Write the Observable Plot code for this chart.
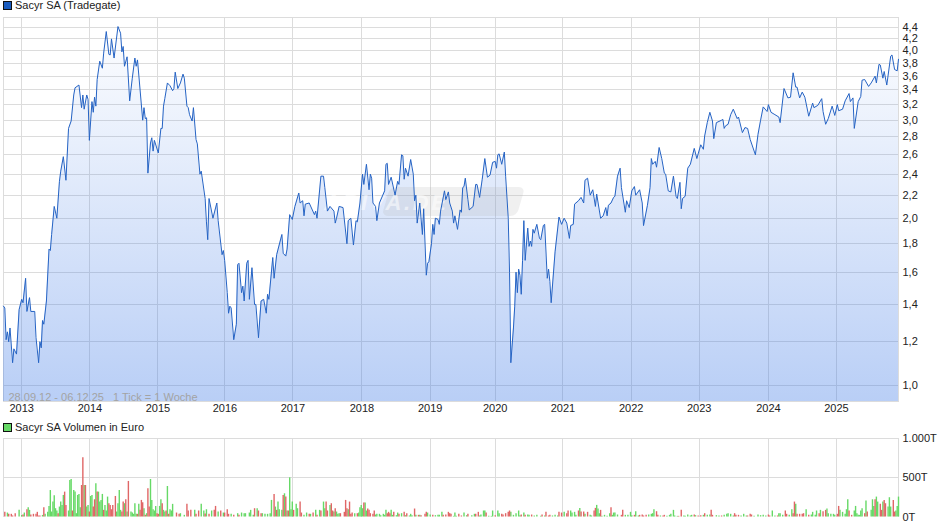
<!DOCTYPE html>
<html><head><meta charset="utf-8">
<script src="https://cdn.jsdelivr.net/npm/d3@7"></script>
<script src="https://cdn.jsdelivr.net/npm/@observablehq/plot@0.6"></script>
<style>
html,body{margin:0;padding:0;background:#fff;overflow:hidden}
body{width:940px;height:526px;position:relative;font-family:"Liberation Sans",Arial,sans-serif}
.legend{position:absolute;left:3px;font-size:11px;line-height:13px;color:#222;z-index:2;white-space:nowrap}
.legend i{display:inline-block;width:7px;height:7px;border:1px solid #111;margin-right:3px;vertical-align:-0.5px}
#a,#b{position:absolute;left:0}
#a{top:16px}#b{top:431px}
</style></head><body>
<div class="legend" style="top:-1px"><i style="background:#1a5cbf"></i>Sacyr SA (Tradegate)</div>
<div class="legend" style="top:421px"><i style="background:#66d966"></i>Sacyr SA Volumen in Euro</div>
<div id="a"></div><div id="b"></div>
<script>
const yearWeeks=[14,66.4,118.7,170.2,222.5,275.5,328,378,430,482.5,534.8,588,640.3];
const yearLabels=["2013","2014","2015","2016","2017","2018","2019","2020","2021","2022","2023","2024","2025"];
const priceTicks=[1,1.2,1.4,1.6,1.8,2,2.2,2.4,2.6,2.8,3,3.2,3.4,3.6,3.8,4,4.2,4.4];
const volumeTicks=[0,500,1000];
// [week since 28.09.12, price]
const price=[[0,1.39],[1,1.38],[2,1.21],[3,1.25],[4,1.2],[5,1.27],[7,1.1],[8,1.165],[10,1.14],[12,1.37],[14,1.43],[15,1.41],[17,1.56],[18,1.36],[20,1.44],[21,1.36],[24,1.36],[25,1.22],[27,1.1],[28,1.2],[29,1.17],[30,1.31],[31,1.29],[33,1.42],[35,1.76],[36,1.75],[37,1.87],[39,2.1],[41,2.0],[43,2.33],[44,2.43],[46,2.58],[48,2.34],[50,2.9],[52,2.99],[54,3.33],[55,3.43],[58,3.47],[60,3.16],[61,3.33],[62,3.14],[64,3.33],[65,3.27],[66,2.76],[68,3.24],[69,3.1],[70,3.3],[71,3.18],[72,3.55],[74,3.83],[76,3.72],[77,3.96],[79,4.33],[81,3.94],[82,3.93],[83,4.2],[85,3.88],[88,4.42],[90,4.3],[91,3.98],[92,4.07],[93,3.75],[95,3.9],[97,3.25],[99,3.57],[101,3.88],[102,3.75],[103,3.85],[107,3.0],[108,3.16],[109,3.02],[110,3.03],[111,2.41],[113,2.73],[114,2.79],[115,2.64],[116,2.76],[119,2.62],[121,2.9],[122,2.9],[123,3.18],[124,3.28],[126,3.5],[128,3.46],[130,3.39],[131,3.42],[132,3.66],[134,3.42],[136,3.5],[138,3.63],[139,3.57],[141,3.18],[142,3.16],[143,3.07],[145,2.99],[146,3.16],[148,2.77],[149,2.72],[151,2.4],[152,2.43],[155,2.17],[156,1.97],[157,1.83],[158,2.17],[161,2.0],[164,2.13],[165,1.98],[168,1.72],[169,1.75],[170,1.68],[172,1.47],[173,1.35],[174,1.39],[175,1.38],[177,1.21],[179,1.29],[180,1.65],[181,1.66],[183,1.47],[184,1.51],[185,1.42],[187,1.66],[188,1.68],[189,1.43],[191,1.63],[193,1.4],[194,1.4],[196,1.22],[198,1.42],[200,1.43],[202,1.35],[203,1.46],[204,1.43],[207,1.7],[208,1.56],[210,1.72],[214,1.87],[215,1.73],[217,1.71],[218,1.76],[220,2.03],[222,1.99],[224,2.1],[227,2.22],[228,2.13],[230,2.15],[231,2.02],[232,2.12],[235,2.13],[239,2.03],[240,2.06],[241,2.0],[244,2.38],[246,2.38],[247,2.27],[249,2.06],[251,2.1],[254,2.06],[255,1.96],[256,2.0],[258,2.1],[261,2.09],[264,1.8],[265,1.98],[267,2.0],[269,1.79],[271,1.98],[272,1.97],[274,2.13],[276,2.4],[277,2.3],[279,2.5],[281,2.25],[282,2.4],[283,2.36],[284,2.13],[286,2.1],[287,1.98],[289,2.13],[293,2.24],[294,2.5],[295,2.51],[296,2.3],[298,2.37],[301,2.2],[303,2.33],[304,2.3],[306,2.6],[307,2.59],[308,2.35],[309,2.46],[311,2.38],[313,2.55],[315,2.4],[316,2.15],[317,2.2],[318,1.96],[320,2.13],[322,1.87],[323,2.08],[325,1.58],[326,1.66],[327,1.67],[329,1.8],[330,1.95],[331,1.87],[332,2.0],[334,1.99],[335,1.95],[336,2.06],[339,2.24],[340,2.16],[342,2.23],[343,2.13],[345,2.06],[346,1.96],[347,2.02],[349,1.91],[351,2.07],[352,2.05],[353,2.27],[354,2.28],[355,2.36],[357,2.16],[358,2.07],[361,2.1],[363,2.3],[364,2.3],[366,2.18],[368,2.35],[370,2.56],[372,2.37],[374,2.39],[376,2.52],[378,2.53],[379,2.46],[380,2.6],[381,2.61],[383,2.5],[385,2.63],[386,2.38],[388,2.0],[389,1.6],[390,1.1],[392,1.27],[393,1.39],[394,1.6],[395,1.47],[396,1.62],[397,1.58],[398,1.46],[399,1.68],[400,1.98],[401,1.68],[403,1.92],[404,1.78],[405,1.82],[406,1.78],[407,1.91],[408,1.88],[410,1.95],[412,1.84],[413,1.83],[415,1.94],[416,1.95],[418,1.56],[419,1.62],[420,1.54],[421,1.41],[424,1.74],[427,2.01],[429,1.95],[431,2.0],[433,1.96],[435,1.84],[436,1.94],[438,1.95],[439,2.12],[442,2.15],[444,2.18],[446,2.13],[447,2.34],[449,2.36],[451,2.2],[453,2.25],[455,2.1],[456,2.21],[459,2.0],[461,2.02],[463,2.09],[464,2.02],[465,2.11],[467,2.13],[469,2.18],[470,2.19],[472,2.38],[474,2.46],[475,2.27],[478,2.05],[479,2.15],[481,2.09],[483,2.24],[485,2.28],[486,2.2],[489,2.25],[491,2.13],[492,1.94],[495,2.11],[497,2.27],[498,2.56],[499,2.5],[501,2.53],[502,2.47],[504,2.68],[506,2.56],[508,2.41],[509,2.4],[511,2.24],[513,2.23],[515,2.38],[517,2.19],[518,2.17],[520,2.32],[521,2.08],[522,2.17],[524,2.19],[526,2.46],[528,2.5],[531,2.67],[533,2.56],[534,2.61],[536,2.71],[538,2.66],[539,2.81],[541,2.97],[543,3.1],[545,2.99],[546,2.78],[548,2.97],[552,3.0],[553,3.01],[554,2.9],[555,2.93],[557,2.95],[559,3.07],[561,3.14],[564,3.02],[565,3.04],[568,2.85],[570,2.91],[572,2.9],[574,2.77],[578,2.6],[580,2.83],[582,3.0],[584,3.17],[587,3.11],[588,3.2],[590,3.1],[593,3.07],[596,3.04],[597,2.97],[600,3.42],[603,3.29],[605,3.3],[607,3.65],[609,3.44],[610,3.44],[612,3.29],[614,3.37],[616,3.3],[619,3.05],[622,3.22],[623,3.16],[626,3.19],[629,3.28],[630,3.11],[632,2.95],[634,3.02],[637,3.18],[639,3.06],[641,3.2],[642,3.12],[645,3.14],[647,3.25],[650,3.35],[651,3.24],[653,3.29],[654,2.9],[657,3.24],[659,3.31],[660,3.54],[662,3.55],[665,3.45],[667,3.5],[670,3.6],[671,3.5],[673,3.78],[674,3.77],[676,3.57],[677,3.67],[679,3.47],[682,3.91],[683,3.93],[685,3.7],[687,3.68],[688,3.86]];
// [week, volume in T]
const greenBars=[[3,50],[12,85],[14,20],[16,50],[19,118],[20,84],[30,20],[32,34],[34,59],[35,134],[36,335],[37,63],[38,189],[39,270],[40,105],[41,76],[43,126],[44,189],[45,147],[46,273],[50,76],[51,462],[52,475],[54,336],[55,315],[56,42],[57,273],[58,286],[59,118],[62,399],[64,126],[65,147],[67,260],[68,273],[71,420],[73,315],[74,189],[75,210],[76,286],[78,147],[79,76],[80,252],[87,63],[88,168],[89,336],[90,84],[93,168],[95,63],[98,63],[99,50],[100,34],[101,168],[102,34],[104,160],[108,105],[110,42],[113,475],[114,210],[115,92],[116,76],[117,134],[120,134],[121,218],[123,84],[124,63],[126,386],[128,92],[129,76],[130,160],[136,42],[139,21],[147,84],[152,160],[154,76],[156,92],[160,76],[165,63],[169,50],[175,34],[180,42],[183,50],[185,42],[186,42],[189,50],[190,84],[192,21],[195,105],[199,42],[201,34],[203,34],[205,42],[206,210],[209,126],[211,189],[212,92],[214,84],[216,294],[218,76],[220,496],[221,92],[222,189],[225,160],[226,105],[231,21],[233,50],[236,34],[240,84],[243,84],[246,189],[247,105],[251,147],[254,63],[256,63],[257,34],[258,42],[265,92],[270,42],[273,50],[274,118],[275,147],[276,105],[278,176],[279,76],[286,25],[287,34],[289,34],[290,17],[292,34],[293,21],[294,84],[298,84],[299,21],[302,17],[303,50],[306,42],[309,17],[312,13],[313,34],[314,17],[317,21],[320,21],[326,50],[328,25],[332,17],[334,21],[335,21],[337,59],[346,8],[347,50],[348,8],[354,50],[356,17],[360,17],[362,34],[366,13],[367,25],[369,76],[370,76],[373,8],[375,8],[376,76],[380,76],[381,42],[390,59],[392,21],[394,42],[396,76],[397,17],[400,50],[403,25],[404,21],[408,13],[410,21],[413,8],[416,13],[422,13],[424,21],[426,13],[431,59],[436,76],[437,50],[439,59],[440,21],[443,109],[447,34],[451,21],[452,13],[456,147],[457,101],[458,42],[460,8],[462,21],[464,8],[466,42],[468,21],[469,50],[470,50],[472,25],[478,21],[480,21],[482,59],[483,17],[486,67],[488,13],[496,25],[498,34],[499,42],[500,92],[505,13],[510,8],[512,21],[513,34],[515,84],[516,13],[518,8],[523,13],[524,8],[526,25],[528,13],[529,21],[532,17],[538,21],[541,21],[543,25],[548,17],[550,13],[554,21],[556,34],[557,42],[559,34],[561,13],[567,13],[569,34],[571,13],[577,8],[580,25],[582,17],[584,21],[586,13],[591,76],[593,13],[596,42],[597,42],[599,21],[604,21],[606,92],[609,160],[617,92],[621,25],[622,59],[624,21],[625,76],[628,84],[633,101],[634,42],[636,34],[638,34],[639,21],[643,84],[645,59],[647,34],[648,92],[649,218],[654,76],[655,134],[656,42],[657,21],[658,21],[659,76],[660,105],[663,202],[667,84],[668,218],[669,134],[671,252],[672,189],[676,189],[680,126],[681,244],[682,126],[686,76],[687,134],[688,252]];
const redBars=[[1,60],[4,34],[6,34],[7,13],[9,42],[15,25],[18,92],[21,25],[23,34],[25,34],[26,59],[27,12],[28,12],[31,118],[42,42],[47,315],[48,147],[53,76],[60,399],[61,750],[63,399],[66,63],[69,126],[70,218],[72,315],[77,84],[81,168],[82,147],[83,92],[84,147],[86,260],[91,63],[92,189],[94,218],[96,450],[103,34],[105,84],[106,210],[107,180],[109,21],[111,357],[112,126],[118,42],[119,34],[122,168],[125,76],[127,34],[133,50],[135,34],[141,160],[142,76],[144,84],[148,34],[150,76],[155,38],[158,34],[162,84],[163,134],[167,76],[170,50],[172,92],[173,34],[177,21],[181,21],[193,105],[196,76],[198,42],[208,286],[210,84],[215,273],[217,252],[219,76],[223,84],[228,189],[229,50],[235,34],[238,50],[241,21],[244,76],[248,189],[249,76],[252,168],[253,76],[255,105],[259,42],[262,59],[263,210],[264,105],[266,189],[267,34],[268,50],[272,42],[277,176],[280,101],[281,84],[282,42],[284,34],[285,76],[295,42],[296,59],[297,42],[300,59],[304,34],[308,59],[310,42],[316,101],[319,21],[321,17],[324,34],[325,59],[330,21],[338,21],[340,25],[342,59],[343,42],[344,34],[350,34],[352,13],[357,34],[363,34],[365,59],[371,50],[378,17],[383,34],[384,25],[386,42],[388,59],[389,76],[398,25],[401,21],[406,25],[414,25],[417,59],[419,13],[420,21],[427,59],[429,50],[433,42],[434,76],[442,76],[444,63],[446,63],[449,59],[454,76],[455,109],[459,84],[467,118],[475,21],[476,84],[485,21],[489,21],[491,25],[492,13],[494,21],[502,67],[503,21],[507,13],[508,21],[519,8],[521,84],[531,25],[534,13],[536,17],[539,42],[544,84],[545,21],[552,13],[562,42],[563,21],[565,21],[572,13],[574,34],[575,25],[588,25],[589,13],[595,13],[601,76],[602,34],[607,42],[608,189],[610,34],[612,34],[614,34],[615,42],[619,21],[627,42],[630,67],[632,84],[641,34],[642,134],[650,76],[652,21],[662,42],[664,63],[670,218],[674,160],[675,84],[677,210],[678,168],[684,210],[685,63]];

const weekRange=[0,688];
const priceDomain=[0.937,4.598];
const fontStyle={fontFamily:"Liberation Sans, Arial, sans-serif",fontSize:"11px",color:"#222",background:"transparent",whiteSpace:"pre",overflow:"visible"};
const gridColor="#dcdcdc";
const crisp={stroke:gridColor,strokeWidth:1,shapeRendering:"crispEdges"};
const yearLabel=w=>yearLabels[yearWeeks.indexOf(w)];

function gradient(){
  const defs=d3.create("svg:defs");
  const g=defs.append("linearGradient").attr("id","pf").attr("x1",0).attr("x2",0).attr("y1",0).attr("y2",1);
  g.append("stop").attr("offset","0%").attr("stop-color","#3c78e6").attr("stop-opacity",0.01);
  g.append("stop").attr("offset","100%").attr("stop-color","#3c78e6").attr("stop-opacity",0.36);
  return defs.node();
}
function watermark(){
  const g=d3.create("svg:g").attr("transform","translate(390,171)");
  g.append("rect").attr("width",135).attr("height",29).attr("rx",6).attr("transform","skewX(-16)")
    .attr("fill","#b4b4b4").attr("fill-opacity",0.2);
  g.append("text").attr("x",-5).attr("y",23).attr("font-size",22).attr("font-style","italic").attr("font-weight","bold")
    .attr("fill","#fff").attr("fill-opacity",0.55).attr("textLength",122).text("ARIVA.DE");
  return g.node();
}

const pricePlot=Plot.plot({
  width:940,height:400,marginTop:0.5,marginBottom:15,marginLeft:3,marginRight:42,
  style:fontStyle,
  x:{type:"linear",domain:weekRange,label:null},
  y:{type:"log",domain:priceDomain,label:null},
  marks:[
    gradient,
    Plot.ruleY(priceTicks,crisp),
    Plot.ruleX(yearWeeks,crisp),
    Plot.frame(crisp),
    Plot.areaY(price,{x:d=>d[0],y1:()=>priceDomain[0],y2:d=>d[1],fill:"url(#pf)"}),
    watermark,
    Plot.line(price,{x:d=>d[0],y:d=>d[1],stroke:"#2563c4",strokeWidth:1}),
    Plot.text(["28.09.12 - 06.12.25   1 Tick = 1 Woche"],{frameAnchor:"bottom-left",dx:5,dy:-1,fill:"#a3a3a3",fontSize:11}),
    Plot.axisX({ticks:yearWeeks,tickFormat:yearLabel,tickSize:0,tickPadding:3,label:null,fill:"#222"}),
    Plot.axisY({anchor:"right",ticks:priceTicks,tickFormat:d=>d.toFixed(1).replace(".",","),tickSize:0,tickPadding:4,label:null,fill:"#222"})
  ]
});
document.getElementById("a").append(pricePlot);

const volumePlot=Plot.plot({
  width:940,height:95,marginTop:6.5,marginBottom:9.5,marginLeft:3,marginRight:42,
  style:fontStyle,
  x:{type:"linear",domain:weekRange,label:null,axis:null},
  y:{domain:[0,1000],label:null},
  marks:[
    Plot.ruleY(volumeTicks.slice(1),crisp),
    Plot.ruleX(yearWeeks,crisp),
    Plot.ruleX(weekRange,crisp),
    Plot.ruleX(greenBars,{x:d=>d[0],y1:0,y2:d=>d[1],stroke:"#66d966",strokeWidth:1.4}),
    Plot.ruleX(redBars,{x:d=>d[0],y1:0,y2:d=>d[1],stroke:"#e06666",strokeWidth:1.4}),
    Plot.axisY({anchor:"right",ticks:volumeTicks,tickFormat:d=>(d===1000?"1.000":d)+"T",tickSize:0,tickPadding:4,label:null,fill:"#222"})
  ]
});
document.getElementById("b").append(volumePlot);
</script>
</body></html>
